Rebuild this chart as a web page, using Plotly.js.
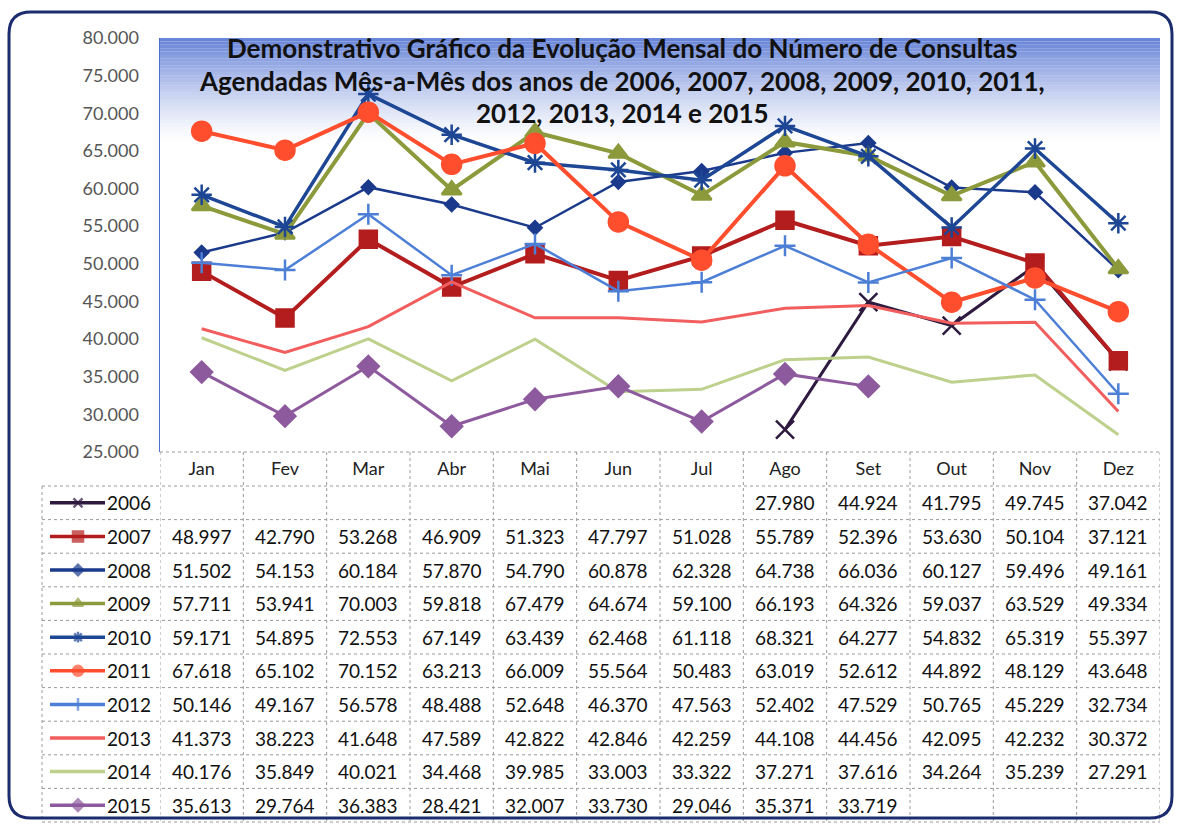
<!DOCTYPE html>
<html lang="pt">
<head>
  <meta charset="UTF-8">
  <title>Evolução Mensal do Número de Consultas</title>
  <script src="https://cdn.plot.ly/plotly-3.0.1.min.js"></script>
  <style>
    body { margin: 0; background: #fff; }
    #chart { width: 1180px; height: 824px; }
  </style>
</head>
<body>
  <div id="chart"></div>
  <script>
    // data
    const months = ['Jan', 'Fev', 'Mar', 'Abr', 'Mai', 'Jun', 'Jul', 'Ago', 'Set', 'Out', 'Nov', 'Dez'];
    const years = ['2006', '2007', '2008', '2009', '2010', '2011', '2012', '2013', '2014', '2015'];

    const v2006 = [null, null, null, null, null, null, null, 27980, 44924, 41795, 49745, 37042];
    const v2007 = [48997, 42790, 53268, 46909, 51323, 47797, 51028, 55789, 52396, 53630, 50104, 37121];
    const v2008 = [51502, 54153, 60184, 57870, 54790, 60878, 62328, 64738, 66036, 60127, 59496, 49161];
    const v2009 = [57711, 53941, 70003, 59818, 67479, 64674, 59100, 66193, 64326, 59037, 63529, 49334];
    const v2010 = [59171, 54895, 72553, 67149, 63439, 62468, 61118, 68321, 64277, 54832, 65319, 55397];
    const v2011 = [67618, 65102, 70152, 63213, 66009, 55564, 50483, 63019, 52612, 44892, 48129, 43648];
    const v2012 = [50146, 49167, 56578, 48488, 52648, 46370, 47563, 52402, 47529, 50765, 45229, 32734];
    const v2013 = [41373, 38223, 41648, 47589, 42822, 42846, 42259, 44108, 44456, 42095, 42232, 30372];
    const v2014 = [40176, 35849, 40021, 34468, 39985, 33003, 33322, 37271, 37616, 34264, 35239, 27291];
    const v2015 = [35613, 29764, 36383, 28421, 32007, 33730, 29046, 35371, 33719, null, null, null];

    const series = [v2006, v2007, v2008, v2009, v2010, v2011, v2012, v2013, v2014, v2015];

    const titleLines = [
      'Demonstrativo Gráfico da Evolução Mensal do Número de Consultas',
      'Agendadas Mês-a-Mês dos anos de 2006, 2007, 2008, 2009, 2010, 2011,',
      '2012, 2013, 2014 e 2015'
    ];

    // look of each year: colour, line width, marker symbol and size
    const styles = [
      { c: '#2e1a3f', w: 3, sym: 'x-thin-open', ms: 18, ks: 9 },
      { c: '#b41d1d', w: 4, sym: 'square', ms: 17, ks: 10 },
      { c: '#1b3a8c', w: 2.5, sym: 'diamond', ms: 10, ks: 8 },
      { c: '#8c9a3c', w: 4, sym: 'triangle-up', ms: 17, ks: 9 },
      { c: '#1d4694', w: 3.5, sym: 'asterisk-open', ms: 17, ks: 9 },
      { c: '#ff4e2e', w: 4, sym: 'circle', ms: 19, ks: 10 },
      { c: '#4d7fd6', w: 2.5, sym: 'cross-thin-open', ms: 15, ks: 9 },
      { c: '#f25e5e', w: 3, sym: null, ms: 0, ks: 0 },
      { c: '#bdd08c', w: 3, sym: null, ms: 0, ks: 0 },
      { c: '#8d5a9e', w: 3, sym: 'diamond', ms: 16, ks: 9 }
    ];

    const W = 1180, H = 824;
    const px = p => p / W;
    const py = p => 1 - p / H;

    const plotTop = 38, plotBottom = 452, plotLeft = 160, plotRight = 1160;
    const rowTop = 486, rowH = 33.6, keyLeft = 42;
    const font = 'Lato, "Open Sans", sans-serif';

    const fmt = v => String(v).replace(/\B(?=(\d{3})+(?!\d))/g, '.');

    const markerFor = (s, size) => s.sym
      ? { symbol: s.sym, size: size, color: s.c, line: { color: s.c, width: 2.5 } }
      : { size: 0, color: s.c };

    const traces = [];
    series.forEach((vals, i) => {
      const s = styles[i];
      traces.push({
        x: months, y: vals, name: years[i], type: 'scatter',
        mode: s.sym ? 'lines+markers' : 'lines',
        line: { color: s.c, width: s.w },
        marker: markerFor(s, s.ms),
        connectgaps: false, hoverinfo: 'x+y+name'
      });
    });

    // legend keys inside the table, drawn on a pixel-sized overlay axis
    series.forEach((vals, i) => {
      const s = styles[i];
      const yc = rowTop + rowH * (i + 0.5);
      traces.push({
        x: [50, 78, 105], y: [yc, yc, yc], xaxis: 'x2', yaxis: 'y2', type: 'scatter',
        mode: s.sym ? 'lines+markers' : 'lines', showlegend: false, hoverinfo: 'skip',
        line: { color: s.c, width: 3.5 },
        marker: markerFor(s, [0, s.ks, 0])
      });
    });

    const shapes = [];
    // blue fade behind the title
    const bands = 30, gTop = plotTop, gBottom = 140;
    for (let b = 0; b < bands; b++) {
      const t = b / bands;
      const a = Math.pow(1 - t, 1.3) * 0.88;
      shapes.push({
        type: 'rect', xref: 'paper', yref: 'paper', layer: 'below',
        x0: px(plotLeft), x1: px(plotRight),
        y0: py(gTop + (gBottom - gTop) * (b + 1) / bands), y1: py(gTop + (gBottom - gTop) * b / bands),
        fillcolor: `rgba(84,116,210,${a.toFixed(3)})`, line: { width: 0 }
      });
    }

    const grid = { color: '#9a9a9a', width: 1, dash: 'dot' };
    const tableBottom = rowTop + rowH * years.length;
    // table: column lines
    for (let k = 0; k <= months.length; k++) {
      shapes.push({ type: 'line', xref: 'x', yref: 'paper', x0: k - 0.5, x1: k - 0.5, y0: py(plotBottom), y1: py(tableBottom), line: grid });
    }
    shapes.push({ type: 'line', xref: 'paper', yref: 'paper', x0: px(keyLeft), x1: px(keyLeft), y0: py(rowTop), y1: py(tableBottom), line: grid });
    // table: row lines
    shapes.push({ type: 'line', xref: 'paper', yref: 'paper', x0: px(plotLeft), x1: px(plotRight), y0: py(plotBottom), y1: py(plotBottom), line: grid });
    for (let r = 0; r <= years.length; r++) {
      const y = rowTop + rowH * r;
      shapes.push({ type: 'line', xref: 'paper', yref: 'paper', x0: px(keyLeft), x1: px(plotRight), y0: py(y), y1: py(y), line: grid });
    }

    // rounded outer frame
    const fx0 = px(9), fx1 = px(1172), fy0 = py(818), fy1 = py(12);
    const rx = 22 / W, ry = 22 / H;
    shapes.push({
      type: 'path', xref: 'paper', yref: 'paper',
      path: `M ${fx0 + rx} ${fy1} L ${fx1 - rx} ${fy1} Q ${fx1} ${fy1} ${fx1} ${fy1 - ry} L ${fx1} ${fy0 + ry} Q ${fx1} ${fy0} ${fx1 - rx} ${fy0} ` +
            `L ${fx0 + rx} ${fy0} Q ${fx0} ${fy0} ${fx0} ${fy0 + ry} L ${fx0} ${fy1 - ry} Q ${fx0} ${fy1} ${fx0 + rx} ${fy1} Z`,
      line: { color: '#1c2c6e', width: 3 }
    });

    const annotations = [];
    // chart title, one line per annotation so each sits where the original does
    const titleY = [48, 81, 113];
    titleLines.forEach((t, i) => {
      annotations.push({
        text: '<b>' + t + '</b>', xref: 'paper', yref: 'paper', x: px(622), y: py(titleY[i]),
        xanchor: 'center', yanchor: 'middle', showarrow: false,
        font: { family: font, size: 26, color: '#111' }
      });
    });

    years.forEach((yr, i) => {
      const yc = py(rowTop + rowH * (i + 0.5));
      annotations.push({
        text: yr, xref: 'paper', yref: 'paper', x: px(105), y: yc, xanchor: 'left', yanchor: 'middle',
        showarrow: false, font: { family: font, size: 19, color: '#111' }
      });
      series[i].forEach((v, m) => {
        if (v === null) return;
        annotations.push({
          text: fmt(v), xref: 'x', yref: 'paper', x: months[m], y: yc, xanchor: 'center', yanchor: 'middle',
          showarrow: false, font: { family: font, size: 19, color: '#111' }
        });
      });
    });

    const layout = {
      width: W, height: H,
      margin: { l: 0, r: 0, t: 0, b: 0 },
      paper_bgcolor: '#ffffff', plot_bgcolor: 'rgba(0,0,0,0)',
      separators: ',.',
      showlegend: false,
      xaxis: {
        domain: [px(plotLeft), px(plotRight)], type: 'category', range: [-0.5, 11.5],
        showgrid: false, zeroline: false, showline: false, ticks: '', ticklabelstandoff: 4,
        tickfont: { family: font, size: 18, color: '#222' }, fixedrange: true
      },
      yaxis: {
        domain: [py(plotBottom), py(plotTop)], range: [25000, 80000], dtick: 5000, tickformat: ',.0f',
        showgrid: false, zeroline: false, showline: true, linecolor: '#4a6ed2', linewidth: 1.5,
        ticks: '', ticklabelstandoff: 16,
        tickfont: { family: font, size: 18, color: '#555' }, fixedrange: true
      },
      xaxis2: { domain: [0, 1], range: [0, W], visible: false, anchor: 'y2', fixedrange: true },
      yaxis2: { domain: [0, 1], range: [H, 0], visible: false, anchor: 'x2', fixedrange: true },
      shapes: shapes,
      annotations: annotations
    };

    Plotly.newPlot('chart', traces, layout, { displayModeBar: false, staticPlot: true });
  </script>
</body>
</html>
